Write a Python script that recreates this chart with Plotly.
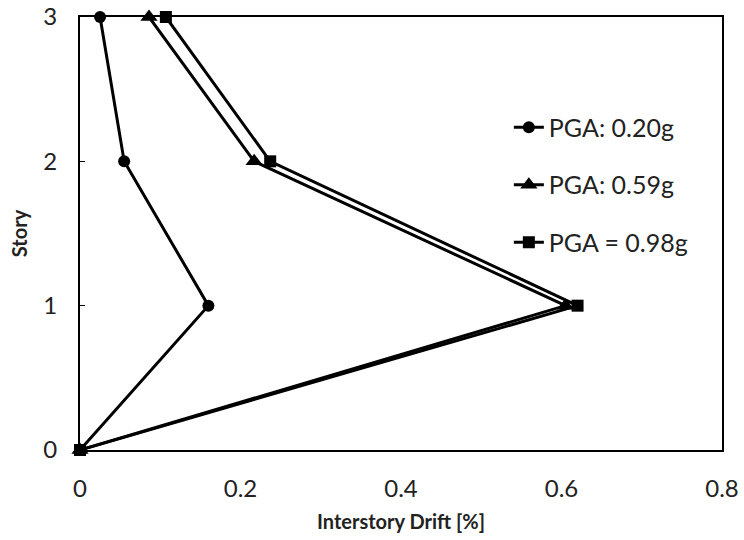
import plotly.graph_objects as go

story = [0, 1, 2, 3]
drift_020 = [0.0, 0.16, 0.055, 0.025]
drift_059 = [0.0, 0.605, 0.217, 0.086]
drift_098 = [0.0, 0.62, 0.237, 0.107]
names = ["PGA: 0.20g", "PGA: 0.59g", "PGA = 0.98g"]
symbols = ["circle", "triangle-up", "square"]

fig = go.Figure()
for i, (d, n, s) in enumerate(zip([drift_020, drift_059, drift_098], names, symbols)):
    fig.add_trace(go.Scatter(
        x=d, y=story, name=n, mode="lines+markers",
        line=dict(color="black", width=3),
        marker=dict(symbol=s, size=12 if s != "triangle-up" else 15, color="black"),
        legendgroup=f"g{i}", cliponaxis=False,
    ))

fig.update_layout(
    width=744, height=540,
    margin=dict(l=80, r=22, t=17, b=90),
    plot_bgcolor="white", paper_bgcolor="white",
    font=dict(family="Lato, Open Sans, sans-serif", color="black"),
    showlegend=True,
    legend=dict(x=0.668, y=0.798, xanchor="left", yanchor="top",
                font=dict(size=25, color="#222"), tracegroupgap=22,
                bgcolor="rgba(0,0,0,0)"),
    xaxis=dict(range=[0, 0.8], tickvals=[0, 0.2, 0.4, 0.6, 0.8],
               ticktext=["0", "0.2", "0.4", "0.6", "0.8"], automargin=False,
               showgrid=False, zeroline=False, showline=True, linecolor="black",
               linewidth=2, mirror=True, ticks="", tickfont=dict(size=24, color="#222"),
               ticklabelstandoff=16,
               title=dict(text="<b>Interstory Drift [%]</b>", font=dict(size=20, color="#222"), standoff=14)),
    yaxis=dict(range=[0, 3], tickvals=[0, 1, 2, 3], automargin=False,
               showgrid=False, zeroline=False, showline=True, linecolor="black",
               linewidth=2, mirror=True, ticks="inside", ticklen=5, tickcolor="black",
               tickfont=dict(size=24, color="#222"), ticklabelstandoff=16,
               title=dict(text="<b>Story</b>", font=dict(size=20, color="#222"), standoff=10)),
)

fig.write_html("out.html")
